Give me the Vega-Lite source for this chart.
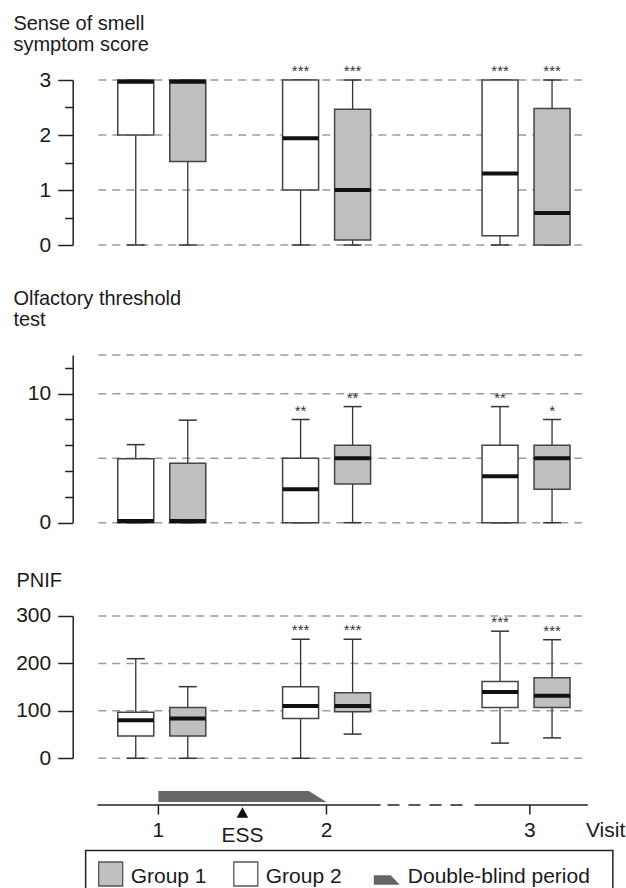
{
  "$schema": "https://vega.github.io/schema/vega-lite/v6.json",
  "padding": {"left": 12.7, "top": 13, "right": 0, "bottom": 0},
  "background": "white",
  "spacing": 0,
  "bounds": "flush",
  "config": {
    "view": {"stroke": null},
    "font": "Liberation Sans",
    "axis": {"domainColor": "#222", "domainWidth": 1.5, "tickColor": "#222", "tickWidth": 1.5, "labelFontSize": 21, "labelColor": "#1a1a1a", "labelFont": "Liberation Sans", "labelPadding": 7, "grid": false, "labelOverlap": false, "labelFlush": false},
    "tick": {"opacity": 1},
    "text": {"font": "Liberation Sans", "color": "#1a1a1a"}
  },
  "datasets": {
    "smell": [
      {"visit": "1", "t": 1, "group": "Group 2", "lo": 0, "q1": 2, "med": 2.97, "q3": 3, "hi": 3, "star": ""},
      {"visit": "1", "t": 1, "group": "Group 1", "lo": 0, "q1": 1.52, "med": 2.97, "q3": 3, "hi": 3, "star": ""},
      {"visit": "2", "t": 2, "group": "Group 2", "lo": 0, "q1": 1, "med": 1.94, "q3": 3, "hi": 3, "star": "***"},
      {"visit": "2", "t": 2, "group": "Group 1", "lo": 0, "q1": 0.09, "med": 1, "q3": 2.47, "hi": 3, "star": "***"},
      {"visit": "3", "t": 3.21, "group": "Group 2", "lo": 0, "q1": 0.17, "med": 1.3, "q3": 3, "hi": 3, "star": "***"},
      {"visit": "3", "t": 3.21, "group": "Group 1", "lo": 0, "q1": 0, "med": 0.58, "q3": 2.48, "hi": 3, "star": "***"}
    ],
    "olf": [
      {"visit": "1", "t": 1, "group": "Group 2", "lo": 0, "q1": 0, "med": 0.13, "q3": 4.95, "hi": 6.05, "star": ""},
      {"visit": "1", "t": 1, "group": "Group 1", "lo": 0, "q1": 0, "med": 0.13, "q3": 4.6, "hi": 7.95, "star": ""},
      {"visit": "2", "t": 2, "group": "Group 2", "lo": 0, "q1": 0, "med": 2.6, "q3": 5, "hi": 8, "star": "**"},
      {"visit": "2", "t": 2, "group": "Group 1", "lo": 0, "q1": 3, "med": 5, "q3": 6, "hi": 9, "star": "**"},
      {"visit": "3", "t": 3.21, "group": "Group 2", "lo": 0, "q1": 0, "med": 3.6, "q3": 6, "hi": 9, "star": "**"},
      {"visit": "3", "t": 3.21, "group": "Group 1", "lo": 0, "q1": 2.6, "med": 5, "q3": 6, "hi": 8, "star": "*"}
    ],
    "pnif": [
      {"visit": "1", "t": 1, "group": "Group 2", "lo": 0, "q1": 47, "med": 80, "q3": 97, "hi": 210, "star": ""},
      {"visit": "1", "t": 1, "group": "Group 1", "lo": 0, "q1": 47, "med": 84, "q3": 107, "hi": 151, "star": ""},
      {"visit": "2", "t": 2, "group": "Group 2", "lo": 0, "q1": 84, "med": 110, "q3": 151, "hi": 251, "star": "***"},
      {"visit": "2", "t": 2, "group": "Group 1", "lo": 51, "q1": 98, "med": 110, "q3": 138, "hi": 251, "star": "***"},
      {"visit": "3", "t": 3.21, "group": "Group 2", "lo": 32, "q1": 107, "med": 140, "q3": 162, "hi": 268, "star": "***"},
      {"visit": "3", "t": 3.21, "group": "Group 1", "lo": 43, "q1": 107, "med": 132, "q3": 170, "hi": 250, "star": "***"}
    ],
    "smell_grid": [{"v": 0}, {"v": 1}, {"v": 2}, {"v": 3}],
    "olf_grid": [{"v": 0}, {"v": 5}, {"v": 10}, {"v": 13}],
    "pnif_grid": [{"v": 0}, {"v": 100}, {"v": 200}, {"v": 300}],
    "visits": [{"visit": "1", "t": 1}, {"visit": "2", "t": 2}, {"visit": "3", "t": 3.21}],
    "segments_solid": [{"start": 0.637, "end": 2.322}, {"start": 2.881, "end": 3.555}],
    "segments_dashed": [{"start": 2.363, "end": 2.817}],
    "double_blind": [{"t": 1, "top": 1.4, "bottom": 0.3}, {"t": 1.895, "top": 1.4, "bottom": 0.3}, {"t": 2, "top": 0.3, "bottom": 0.3}],
    "events": [{"label": "ESS", "t": 1.5}]
  },
  "vconcat": [
    {
      "width": 521, "height": 274.7,
      "title": {"text": ["Sense of smell", "symptom score"], "anchor": "start", "frame": "group", "dx": -59.3, "offset": 5, "fontSize": 20, "fontWeight": "normal", "lineHeight": 21.5, "color": "#1a1a1a", "font": "Liberation Sans"},
      "layer": [
        {"data": {"name": "smell_grid"}, "mark": {"type": "rule", "color": "#9b9b9b", "strokeWidth": 1.5, "strokeDash": [8, 6]},
         "encoding": {"x": {"datum": 0.615, "type": "quantitative", "scale": {"domain": [0.49, 3.59], "nice": false, "zero": false}, "axis": null}, "x2": {"datum": 3.549},
          "y": {"field": "v", "type": "quantitative", "scale": {"domain": [0, 3], "range": [185, 20], "nice": false, "zero": false},
                "axis": {"title": null, "values": [0, 0.5, 1, 1.5, 2, 2.5, 3], "labelExpr": "datum.value % 1 === 0 ? format(datum.value, 'd') : ''", "tickSize": {"condition": {"test": "datum.value % 1 === 0", "value": 15}, "value": 8}}}}},
        {"data": {"name": "smell"}, "transform": [{"filter": "datum.group === 'Group 2'"}],
         "encoding": {"x": {"field": "t", "type": "quantitative", "scale": {"domain": [0.49, 3.59], "nice": false, "zero": false}, "axis": null}, "xOffset": {"value": -26}},
         "layer": [
          {"mark": {"type": "rule", "color": "#333", "strokeWidth": 1.3}, "encoding": {"y": {"field": "lo", "type": "quantitative", "scale": {"domain": [0, 3], "range": [185, 20], "nice": false, "zero": false}}, "y2": {"field": "hi"}}},
          {"mark": {"type": "tick", "orient": "horizontal", "size": 18, "thickness": 1.5, "color": "#333", "opacity": 1}, "encoding": {"y": {"field": "lo", "type": "quantitative", "scale": {"domain": [0, 3], "range": [185, 20], "nice": false, "zero": false}}}},
          {"mark": {"type": "tick", "orient": "horizontal", "size": 18, "thickness": 1.5, "color": "#333", "opacity": 1}, "encoding": {"y": {"field": "hi", "type": "quantitative", "scale": {"domain": [0, 3], "range": [185, 20], "nice": false, "zero": false}}}},
          {"mark": {"type": "bar", "size": 36, "stroke": "#444", "strokeWidth": 1.5}, "encoding": {"y": {"field": "q1", "type": "quantitative", "scale": {"domain": [0, 3], "range": [185, 20], "nice": false, "zero": false}}, "y2": {"field": "q3"}, "fill": {"field": "group", "type": "nominal", "scale": {"domain": ["Group 1", "Group 2"], "range": ["#c0c0c0", "#ffffff"]}, "legend": null}}},
          {"mark": {"type": "tick", "orient": "horizontal", "size": 36, "thickness": 4, "color": "#111", "opacity": 1}, "encoding": {"y": {"field": "med", "type": "quantitative", "scale": {"domain": [0, 3], "range": [185, 20], "nice": false, "zero": false}}}},
          {"mark": {"type": "text", "fontSize": 15, "baseline": "alphabetic", "dy": -4, "color": "#333"}, "encoding": {"y": {"field": "hi", "type": "quantitative", "scale": {"domain": [0, 3], "range": [185, 20], "nice": false, "zero": false}}, "text": {"field": "star"}}}
         ]},
        {"data": {"name": "smell"}, "transform": [{"filter": "datum.group === 'Group 1'"}],
         "encoding": {"x": {"field": "t", "type": "quantitative", "scale": {"domain": [0.49, 3.59], "nice": false, "zero": false}, "axis": null}, "xOffset": {"value": 26}},
         "layer": [
          {"mark": {"type": "rule", "color": "#333", "strokeWidth": 1.3}, "encoding": {"y": {"field": "lo", "type": "quantitative", "scale": {"domain": [0, 3], "range": [185, 20], "nice": false, "zero": false}}, "y2": {"field": "hi"}}},
          {"mark": {"type": "tick", "orient": "horizontal", "size": 18, "thickness": 1.5, "color": "#333", "opacity": 1}, "encoding": {"y": {"field": "lo", "type": "quantitative", "scale": {"domain": [0, 3], "range": [185, 20], "nice": false, "zero": false}}}},
          {"mark": {"type": "tick", "orient": "horizontal", "size": 18, "thickness": 1.5, "color": "#333", "opacity": 1}, "encoding": {"y": {"field": "hi", "type": "quantitative", "scale": {"domain": [0, 3], "range": [185, 20], "nice": false, "zero": false}}}},
          {"mark": {"type": "bar", "size": 36, "stroke": "#444", "strokeWidth": 1.5}, "encoding": {"y": {"field": "q1", "type": "quantitative", "scale": {"domain": [0, 3], "range": [185, 20], "nice": false, "zero": false}}, "y2": {"field": "q3"}, "fill": {"field": "group", "type": "nominal", "scale": {"domain": ["Group 1", "Group 2"], "range": ["#c0c0c0", "#ffffff"]}, "legend": null}}},
          {"mark": {"type": "tick", "orient": "horizontal", "size": 36, "thickness": 4, "color": "#111", "opacity": 1}, "encoding": {"y": {"field": "med", "type": "quantitative", "scale": {"domain": [0, 3], "range": [185, 20], "nice": false, "zero": false}}}},
          {"mark": {"type": "text", "fontSize": 15, "baseline": "alphabetic", "dy": -4, "color": "#333"}, "encoding": {"y": {"field": "hi", "type": "quantitative", "scale": {"domain": [0, 3], "range": [185, 20], "nice": false, "zero": false}}, "text": {"field": "star"}}}
         ]}
      ]
    },
    {
      "width": 521, "height": 261,
      "title": {"text": ["Olfactory threshold", "test"], "anchor": "start", "frame": "group", "dx": -59.3, "offset": 5, "fontSize": 20, "fontWeight": "normal", "lineHeight": 21.5, "color": "#1a1a1a", "font": "Liberation Sans"},
      "layer": [
        {"data": {"name": "olf_grid"}, "mark": {"type": "rule", "color": "#9b9b9b", "strokeWidth": 1.5, "strokeDash": [8, 6]},
         "encoding": {"x": {"datum": 0.615, "type": "quantitative", "scale": {"domain": [0.49, 3.59], "nice": false, "zero": false}, "axis": null}, "x2": {"datum": 3.549},
          "y": {"field": "v", "type": "quantitative", "scale": {"domain": [0, 13], "range": [187.7, 20], "nice": false, "zero": false},
                "axis": {"title": null, "values": [0, 1, 2, 3, 4, 5, 6, 7, 8, 9, 10, 11, 12, 13], "labelExpr": "(datum.value === 0 || datum.value === 5 || datum.value === 10) ? datum.label : ''", "tickSize": {"condition": {"test": "datum.value === 0 || datum.value === 5 || datum.value === 10", "value": 15}, "value": 8}}}}},
        {"data": {"name": "olf"}, "transform": [{"filter": "datum.group === 'Group 2'"}],
         "encoding": {"x": {"field": "t", "type": "quantitative", "scale": {"domain": [0.49, 3.59], "nice": false, "zero": false}, "axis": null}, "xOffset": {"value": -26}},
         "layer": [
          {"mark": {"type": "rule", "color": "#333", "strokeWidth": 1.3}, "encoding": {"y": {"field": "lo", "type": "quantitative", "scale": {"domain": [0, 13], "range": [187.7, 20], "nice": false, "zero": false}}, "y2": {"field": "hi"}}},
          {"mark": {"type": "tick", "orient": "horizontal", "size": 18, "thickness": 1.5, "color": "#333", "opacity": 1}, "encoding": {"y": {"field": "lo", "type": "quantitative", "scale": {"domain": [0, 13], "range": [187.7, 20], "nice": false, "zero": false}}}},
          {"mark": {"type": "tick", "orient": "horizontal", "size": 18, "thickness": 1.5, "color": "#333", "opacity": 1}, "encoding": {"y": {"field": "hi", "type": "quantitative", "scale": {"domain": [0, 13], "range": [187.7, 20], "nice": false, "zero": false}}}},
          {"mark": {"type": "bar", "size": 36, "stroke": "#444", "strokeWidth": 1.5}, "encoding": {"y": {"field": "q1", "type": "quantitative", "scale": {"domain": [0, 13], "range": [187.7, 20], "nice": false, "zero": false}}, "y2": {"field": "q3"}, "fill": {"field": "group", "type": "nominal", "scale": {"domain": ["Group 1", "Group 2"], "range": ["#c0c0c0", "#ffffff"]}, "legend": null}}},
          {"mark": {"type": "tick", "orient": "horizontal", "size": 36, "thickness": 4, "color": "#111", "opacity": 1}, "encoding": {"y": {"field": "med", "type": "quantitative", "scale": {"domain": [0, 13], "range": [187.7, 20], "nice": false, "zero": false}}}},
          {"mark": {"type": "text", "fontSize": 15, "baseline": "alphabetic", "dy": -4, "color": "#333"}, "encoding": {"y": {"field": "hi", "type": "quantitative", "scale": {"domain": [0, 13], "range": [187.7, 20], "nice": false, "zero": false}}, "text": {"field": "star"}}}
         ]},
        {"data": {"name": "olf"}, "transform": [{"filter": "datum.group === 'Group 1'"}],
         "encoding": {"x": {"field": "t", "type": "quantitative", "scale": {"domain": [0.49, 3.59], "nice": false, "zero": false}, "axis": null}, "xOffset": {"value": 26}},
         "layer": [
          {"mark": {"type": "rule", "color": "#333", "strokeWidth": 1.3}, "encoding": {"y": {"field": "lo", "type": "quantitative", "scale": {"domain": [0, 13], "range": [187.7, 20], "nice": false, "zero": false}}, "y2": {"field": "hi"}}},
          {"mark": {"type": "tick", "orient": "horizontal", "size": 18, "thickness": 1.5, "color": "#333", "opacity": 1}, "encoding": {"y": {"field": "lo", "type": "quantitative", "scale": {"domain": [0, 13], "range": [187.7, 20], "nice": false, "zero": false}}}},
          {"mark": {"type": "tick", "orient": "horizontal", "size": 18, "thickness": 1.5, "color": "#333", "opacity": 1}, "encoding": {"y": {"field": "hi", "type": "quantitative", "scale": {"domain": [0, 13], "range": [187.7, 20], "nice": false, "zero": false}}}},
          {"mark": {"type": "bar", "size": 36, "stroke": "#444", "strokeWidth": 1.5}, "encoding": {"y": {"field": "q1", "type": "quantitative", "scale": {"domain": [0, 13], "range": [187.7, 20], "nice": false, "zero": false}}, "y2": {"field": "q3"}, "fill": {"field": "group", "type": "nominal", "scale": {"domain": ["Group 1", "Group 2"], "range": ["#c0c0c0", "#ffffff"]}, "legend": null}}},
          {"mark": {"type": "tick", "orient": "horizontal", "size": 36, "thickness": 4, "color": "#111", "opacity": 1}, "encoding": {"y": {"field": "med", "type": "quantitative", "scale": {"domain": [0, 13], "range": [187.7, 20], "nice": false, "zero": false}}}},
          {"mark": {"type": "text", "fontSize": 15, "baseline": "alphabetic", "dy": -4, "color": "#333"}, "encoding": {"y": {"field": "hi", "type": "quantitative", "scale": {"domain": [0, 13], "range": [187.7, 20], "nice": false, "zero": false}}, "text": {"field": "star"}}}
         ]}
      ]
    },
    {
      "width": 521, "height": 175,
      "title": {"text": ["PNIF"], "anchor": "start", "frame": "group", "dx": -56.3, "offset": 5, "fontSize": 20, "fontWeight": "normal", "lineHeight": 21.5, "color": "#1a1a1a", "font": "Liberation Sans"},
      "layer": [
        {"data": {"name": "pnif_grid"}, "mark": {"type": "rule", "color": "#9b9b9b", "strokeWidth": 1.5, "strokeDash": [8, 6]},
         "encoding": {"x": {"datum": 0.615, "type": "quantitative", "scale": {"domain": [0.49, 3.59], "nice": false, "zero": false}, "axis": null}, "x2": {"datum": 3.549},
          "y": {"field": "v", "type": "quantitative", "scale": {"domain": [0, 300], "range": [162.3, 20], "nice": false, "zero": false},
                "axis": {"title": null, "values": [0, 50, 100, 150, 200, 250, 300], "labelExpr": "datum.value % 100 === 0 ? datum.label : ''", "tickSize": {"condition": {"test": "datum.value % 100 === 0", "value": 15}, "value": 8}}}}},
        {"data": {"name": "pnif"}, "transform": [{"filter": "datum.group === 'Group 2'"}],
         "encoding": {"x": {"field": "t", "type": "quantitative", "scale": {"domain": [0.49, 3.59], "nice": false, "zero": false}, "axis": null}, "xOffset": {"value": -26}},
         "layer": [
          {"mark": {"type": "rule", "color": "#333", "strokeWidth": 1.3}, "encoding": {"y": {"field": "lo", "type": "quantitative", "scale": {"domain": [0, 300], "range": [162.3, 20], "nice": false, "zero": false}}, "y2": {"field": "hi"}}},
          {"mark": {"type": "tick", "orient": "horizontal", "size": 18, "thickness": 1.5, "color": "#333", "opacity": 1}, "encoding": {"y": {"field": "lo", "type": "quantitative", "scale": {"domain": [0, 300], "range": [162.3, 20], "nice": false, "zero": false}}}},
          {"mark": {"type": "tick", "orient": "horizontal", "size": 18, "thickness": 1.5, "color": "#333", "opacity": 1}, "encoding": {"y": {"field": "hi", "type": "quantitative", "scale": {"domain": [0, 300], "range": [162.3, 20], "nice": false, "zero": false}}}},
          {"mark": {"type": "bar", "size": 36, "stroke": "#444", "strokeWidth": 1.5}, "encoding": {"y": {"field": "q1", "type": "quantitative", "scale": {"domain": [0, 300], "range": [162.3, 20], "nice": false, "zero": false}}, "y2": {"field": "q3"}, "fill": {"field": "group", "type": "nominal", "scale": {"domain": ["Group 1", "Group 2"], "range": ["#c0c0c0", "#ffffff"]}, "legend": null}}},
          {"mark": {"type": "tick", "orient": "horizontal", "size": 36, "thickness": 4, "color": "#111", "opacity": 1}, "encoding": {"y": {"field": "med", "type": "quantitative", "scale": {"domain": [0, 300], "range": [162.3, 20], "nice": false, "zero": false}}}},
          {"mark": {"type": "text", "fontSize": 15, "baseline": "alphabetic", "dy": -4, "color": "#333"}, "encoding": {"y": {"field": "hi", "type": "quantitative", "scale": {"domain": [0, 300], "range": [162.3, 20], "nice": false, "zero": false}}, "text": {"field": "star"}}}
         ]},
        {"data": {"name": "pnif"}, "transform": [{"filter": "datum.group === 'Group 1'"}],
         "encoding": {"x": {"field": "t", "type": "quantitative", "scale": {"domain": [0.49, 3.59], "nice": false, "zero": false}, "axis": null}, "xOffset": {"value": 26}},
         "layer": [
          {"mark": {"type": "rule", "color": "#333", "strokeWidth": 1.3}, "encoding": {"y": {"field": "lo", "type": "quantitative", "scale": {"domain": [0, 300], "range": [162.3, 20], "nice": false, "zero": false}}, "y2": {"field": "hi"}}},
          {"mark": {"type": "tick", "orient": "horizontal", "size": 18, "thickness": 1.5, "color": "#333", "opacity": 1}, "encoding": {"y": {"field": "lo", "type": "quantitative", "scale": {"domain": [0, 300], "range": [162.3, 20], "nice": false, "zero": false}}}},
          {"mark": {"type": "tick", "orient": "horizontal", "size": 18, "thickness": 1.5, "color": "#333", "opacity": 1}, "encoding": {"y": {"field": "hi", "type": "quantitative", "scale": {"domain": [0, 300], "range": [162.3, 20], "nice": false, "zero": false}}}},
          {"mark": {"type": "bar", "size": 36, "stroke": "#444", "strokeWidth": 1.5}, "encoding": {"y": {"field": "q1", "type": "quantitative", "scale": {"domain": [0, 300], "range": [162.3, 20], "nice": false, "zero": false}}, "y2": {"field": "q3"}, "fill": {"field": "group", "type": "nominal", "scale": {"domain": ["Group 1", "Group 2"], "range": ["#c0c0c0", "#ffffff"]}, "legend": null}}},
          {"mark": {"type": "tick", "orient": "horizontal", "size": 36, "thickness": 4, "color": "#111", "opacity": 1}, "encoding": {"y": {"field": "med", "type": "quantitative", "scale": {"domain": [0, 300], "range": [162.3, 20], "nice": false, "zero": false}}}},
          {"mark": {"type": "text", "fontSize": 15, "baseline": "alphabetic", "dy": -4, "color": "#333"}, "encoding": {"y": {"field": "hi", "type": "quantitative", "scale": {"domain": [0, 300], "range": [162.3, 20], "nice": false, "zero": false}}, "text": {"field": "star"}}}
         ]}
      ]
    },
    {
      "width": 521, "height": 120,
      "layer": [
        {"data": {"name": "double_blind"}, "mark": {"type": "area", "color": "#666666", "opacity": 1},
         "encoding": {"x": {"field": "t", "type": "quantitative", "scale": {"domain": [0.49, 3.59], "nice": false, "zero": false}, "axis": null},
          "y": {"field": "top", "type": "quantitative", "scale": {"domain": [-8.6, 3.4], "nice": false, "zero": false}, "axis": null}, "y2": {"field": "bottom"}}},
        {"data": {"name": "segments_solid"}, "mark": {"type": "rule", "color": "#222", "strokeWidth": 1.5},
         "encoding": {"x": {"field": "start", "type": "quantitative", "scale": {"domain": [0.49, 3.59], "nice": false, "zero": false}, "axis": null}, "x2": {"field": "end"},
          "y": {"datum": 0, "type": "quantitative", "scale": {"domain": [-8.6, 3.4], "nice": false, "zero": false}, "axis": null}}},
        {"data": {"name": "segments_dashed"}, "mark": {"type": "rule", "color": "#222", "strokeWidth": 1.5, "strokeDash": [12, 9]},
         "encoding": {"x": {"field": "start", "type": "quantitative", "scale": {"domain": [0.49, 3.59], "nice": false, "zero": false}, "axis": null}, "x2": {"field": "end"},
          "y": {"datum": 0, "type": "quantitative", "scale": {"domain": [-8.6, 3.4], "nice": false, "zero": false}, "axis": null}}},
        {"data": {"name": "visits"}, "mark": {"type": "rule", "color": "#222", "strokeWidth": 1.5},
         "encoding": {"x": {"field": "t", "type": "quantitative", "scale": {"domain": [0.49, 3.59], "nice": false, "zero": false}, "axis": null},
          "y": {"datum": 0, "type": "quantitative", "scale": {"domain": [-8.6, 3.4], "nice": false, "zero": false}, "axis": null}, "y2": {"datum": -0.95}}},
        {"data": {"name": "visits"}, "mark": {"type": "text", "fontSize": 21, "baseline": "alphabetic", "align": "center"},
         "encoding": {"x": {"field": "t", "type": "quantitative", "scale": {"domain": [0.49, 3.59], "nice": false, "zero": false}, "axis": null},
          "y": {"datum": -3.22, "type": "quantitative", "scale": {"domain": [-8.6, 3.4], "nice": false, "zero": false}, "axis": null}, "text": {"field": "visit"}}},
        {"data": {"values": [{"label": "Visit"}]}, "mark": {"type": "text", "fontSize": 21, "baseline": "alphabetic", "align": "left"},
         "encoding": {"x": {"datum": 3.544, "type": "quantitative", "scale": {"domain": [0.49, 3.59], "nice": false, "zero": false}, "axis": null},
          "y": {"datum": -3.22, "type": "quantitative", "scale": {"domain": [-8.6, 3.4], "nice": false, "zero": false}, "axis": null}, "text": {"field": "label"}}},
        {"data": {"name": "events"}, "mark": {"type": "point", "shape": "M0,-1L1.1,1L-1.1,1Z", "size": 110, "filled": true, "color": "#111", "opacity": 1},
         "encoding": {"x": {"field": "t", "type": "quantitative", "scale": {"domain": [0.49, 3.59], "nice": false, "zero": false}, "axis": null},
          "y": {"datum": -0.75, "type": "quantitative", "scale": {"domain": [-8.6, 3.4], "nice": false, "zero": false}, "axis": null}}},
        {"data": {"name": "events"}, "mark": {"type": "text", "fontSize": 21, "baseline": "alphabetic", "align": "center"},
         "encoding": {"x": {"field": "t", "type": "quantitative", "scale": {"domain": [0.49, 3.59], "nice": false, "zero": false}, "axis": null},
          "y": {"datum": -3.7, "type": "quantitative", "scale": {"domain": [-8.6, 3.4], "nice": false, "zero": false}, "axis": null}, "text": {"field": "label"}}},
        {"data": {"values": [{}]}, "mark": {"type": "rect", "filled": false, "color": "#222", "strokeWidth": 1.5},
         "encoding": {"x": {"datum": 0.567, "type": "quantitative", "scale": {"domain": [0.49, 3.59], "nice": false, "zero": false}, "axis": null}, "x2": {"datum": 3.704},
          "y": {"datum": -4.54, "type": "quantitative", "scale": {"domain": [-8.6, 3.4], "nice": false, "zero": false}, "axis": null}, "y2": {"datum": -8.9}}},
        {"data": {"values": [{"label": "Group 1"}]}, "mark": {"type": "point", "shape": "square", "size": 576, "filled": true, "fill": "#c0c0c0", "stroke": "#555", "strokeWidth": 1.3, "opacity": 1},
         "encoding": {"x": {"datum": 0.716, "type": "quantitative", "scale": {"domain": [0.49, 3.59], "nice": false, "zero": false}, "axis": null},
          "y": {"datum": -6.9, "type": "quantitative", "scale": {"domain": [-8.6, 3.4], "nice": false, "zero": false}, "axis": null}}},
        {"data": {"values": [{"label": "Group 2"}]}, "mark": {"type": "point", "shape": "square", "size": 576, "filled": true, "fill": "#ffffff", "stroke": "#555", "strokeWidth": 1.3, "opacity": 1},
         "encoding": {"x": {"datum": 1.52, "type": "quantitative", "scale": {"domain": [0.49, 3.59], "nice": false, "zero": false}, "axis": null},
          "y": {"datum": -6.9, "type": "quantitative", "scale": {"domain": [-8.6, 3.4], "nice": false, "zero": false}, "axis": null}}},
        {"data": {"values": [{"label": "Double-blind period"}]}, "mark": {"type": "point", "shape": "M-1,-0.37L0.3,-0.37L1,0.37L-1,0.37Z", "size": 676, "filled": true, "color": "#666666", "opacity": 1},
         "encoding": {"x": {"datum": 2.359, "type": "quantitative", "scale": {"domain": [0.49, 3.59], "nice": false, "zero": false}, "axis": null},
          "y": {"datum": -7.5, "type": "quantitative", "scale": {"domain": [-8.6, 3.4], "nice": false, "zero": false}, "axis": null}}},
        {"data": {"values": [{"label": "Group 1", "pos": 0.835}, {"label": "Group 2", "pos": 1.639}, {"label": "Double-blind period", "pos": 2.484}]}, "mark": {"type": "text", "fontSize": 21, "baseline": "alphabetic", "align": "left"},
         "encoding": {"x": {"field": "pos", "type": "quantitative", "scale": {"domain": [0.49, 3.59], "nice": false, "zero": false}, "axis": null},
          "y": {"datum": -7.8, "type": "quantitative", "scale": {"domain": [-8.6, 3.4], "nice": false, "zero": false}, "axis": null}, "text": {"field": "label"}}}
      ]
    }
  ]
}
